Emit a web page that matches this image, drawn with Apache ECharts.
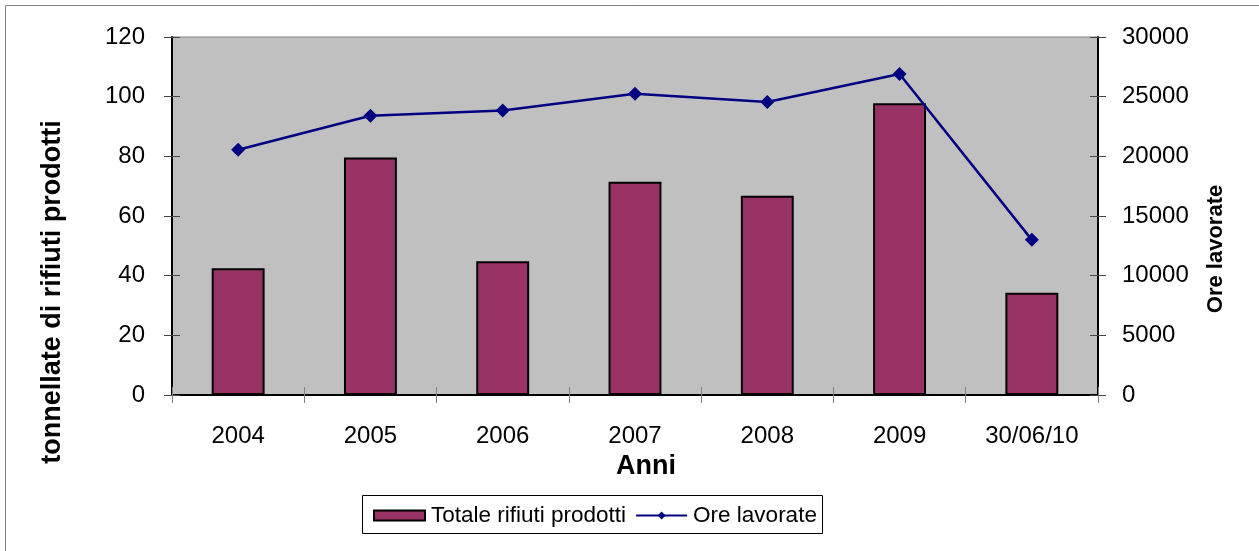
<!DOCTYPE html>
<html>
<head>
<meta charset="utf-8">
<script src="https://cdn.jsdelivr.net/npm/echarts@6/dist/echarts.min.js"></script>
<style>
  html, body { margin: 0; padding: 0; background: #fff; }
  #chart { width: 1259px; height: 551px; }
</style>
</head>
<body>
<div id="chart"></div>
<script>
// Categories and series values
const categories = ['2004', '2005', '2006', '2007', '2008', '2009', '30/06/10'];
const rifiuti = [42.5, 79.6, 44.8, 71.5, 66.8, 97.8, 34.3];
const oreLavorate = [20550, 23400, 23850, 25250, 24550, 26900, 13000];
const leftTicks = { min: 0, max: 120, interval: 20 };
const rightTicks = { min: 0, max: 30000, interval: 5000 };

const FONT = '"Liberation Sans", Arial, sans-serif';
const chart = echarts.init(document.getElementById('chart'), null, { renderer: 'canvas' });

// value axis with outward ticks and labels
function valueAxis(pos, range, margin) {
  return {
    type: 'value', position: pos,
    min: range.min, max: range.max, interval: range.interval,
    axisLine: { show: true, lineStyle: { color: '#000', width: 2 } },
    axisTick: { show: true, length: 8, lineStyle: { color: '#444' } },
    axisLabel: { color: '#000', fontSize: 24, fontFamily: FONT, margin: margin, formatter: v => String(v) },
    splitLine: { show: false }
  };
}
// companion axis that draws the inner half of the crossing ticks
function innerTicks(pos, range) {
  return {
    type: 'value', position: pos,
    min: range.min, max: range.max, interval: range.interval,
    axisLine: { show: false },
    axisTick: { show: true, inside: true, length: 8, lineStyle: { color: '#444' } },
    axisLabel: { show: false },
    splitLine: { show: false }
  };
}

chart.setOption({
  backgroundColor: '#ffffff',
  animation: false,
  textStyle: { fontFamily: FONT },
  graphic: [
    // outer frame
    { type: 'rect', shape: { x: 5.5, y: 5.5, width: 1300, height: 600 }, style: { fill: 'none', stroke: '#808080', lineWidth: 1 }, silent: true },
    // axis titles
    { type: 'text', x: 53, y: 292, rotation: Math.PI / 2, style: { text: 'tonnellate di rifiuti prodotti', font: 'bold 27px ' + FONT, fill: '#000', textAlign: 'center', textVerticalAlign: 'middle' } },
    { type: 'text', x: 1216, y: 249, rotation: Math.PI / 2, style: { text: 'Ore lavorate', font: 'bold 22px ' + FONT, fill: '#000', textAlign: 'center', textVerticalAlign: 'middle' } },
    { type: 'text', x: 646, y: 467, style: { text: 'Anni', font: 'bold 27px ' + FONT, fill: '#000', textAlign: 'center', textVerticalAlign: 'middle' } },
    // legend frame
    { type: 'rect', shape: { x: 362.5, y: 495.5, width: 460, height: 38 }, style: { fill: '#fff', stroke: '#000', lineWidth: 1 }, z: 0, silent: true }
  ],
  legend: {
    left: 373,
    top: 504,
    padding: 0,
    itemGap: 9,
    itemWidth: 51,
    itemHeight: 10,
    textStyle: { fontFamily: FONT, fontSize: 22.5, color: '#000', padding: [0, 0, 0, 1] },
    data: [
      { name: 'Totale rifiuti prodotti', icon: 'rect', itemStyle: { color: '#993366', borderColor: '#000', borderWidth: 2 } },
      { name: 'Ore lavorate' }
    ],
    z: 10
  },
  grid: {
    left: 172, top: 37, right: 161, bottom: 156,
    show: true,
    backgroundColor: '#c0c0c0',
    borderColor: '#808080',
    borderWidth: 1
  },
  xAxis: [
    {
      type: 'category',
      data: categories,
      axisLine: { lineStyle: { color: '#000', width: 2 } },
      axisTick: { show: true, interval: 0, length: 8, lineStyle: { color: '#808080' } },
      axisLabel: { color: '#000', fontSize: 24, fontFamily: FONT, margin: 29, interval: 0 },
      splitLine: { show: false }
    },
    {
      type: 'category',
      data: categories,
      position: 'bottom',
      axisLine: { show: false },
      axisTick: { show: true, inside: true, interval: 0, length: 8, lineStyle: { color: '#808080' } },
      axisLabel: { show: false },
      splitLine: { show: false }
    }
  ],
  yAxis: [
    valueAxis('left', leftTicks, 27),
    valueAxis('right', rightTicks, 24),
    innerTicks('left', leftTicks),
    innerTicks('right', rightTicks)
  ],
  series: [
    {
      name: 'Totale rifiuti prodotti',
      type: 'bar',
      yAxisIndex: 0,
      data: rifiuti,
      barWidth: '40%',
      itemStyle: { color: '#993366', borderColor: '#000', borderWidth: 2 }
    },
    {
      name: 'Ore lavorate',
      type: 'line',
      yAxisIndex: 1,
      data: oreLavorate,
      symbol: 'diamond',
      symbolSize: 14,
      lineStyle: { color: '#000080', width: 2.5 },
      itemStyle: { color: '#000080' }
    }
  ]
});
</script>
</body>
</html>
